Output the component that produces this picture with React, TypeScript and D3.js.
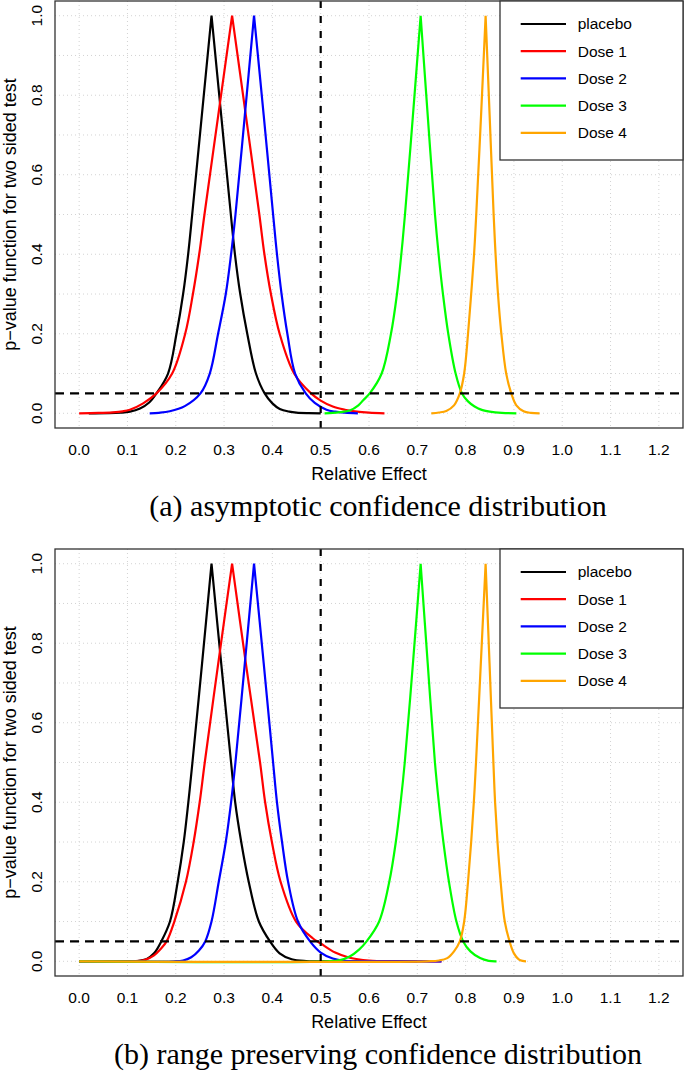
import React from "react";
import * as d3 from "d3";

type Pt = [number, number];

// ---------- data ----------
const SERIES_NAMES = ["placebo", "Dose 1", "Dose 2", "Dose 3", "Dose 4"];
const SERIES_COLORS = ["#000000", "#FF0000", "#0000FF", "#00FF00", "#FFA500"];
const X_TICKS = [0, 0.1, 0.2, 0.3, 0.4, 0.5, 0.6, 0.7, 0.8, 0.9, 1.0, 1.1, 1.2];
const Y_TICKS = [0, 0.2, 0.4, 0.6, 0.8, 1.0];
const Y_GRID = [0, 0.1, 0.2, 0.3, 0.4, 0.5, 0.6, 0.7, 0.8, 0.9, 1.0];
const THRESHOLD = 0.05;
const NULL_EFFECT = 0.5;
const CAPTIONS = [
  "(a) asymptotic confidence distribution",
  "(b) range preserving confidence distribution",
];

// (a) asymptotic confidence distribution: [relative effect, p-value]
const asymPlacebo: Pt[] = [[0.02,0],[0.06,0.0004],[0.085,0.0015],[0.105,0.004],[0.126,0.012],[0.145,0.027],[0.16,0.05],[0.184,0.1],[0.2015,0.2],[0.2152,0.3],[0.2256,0.4],[0.234,0.5],[0.254,0.75],[0.274,1],[0.294,0.75],[0.314,0.5],[0.3225,0.4],[0.3335,0.3],[0.348,0.2],[0.366,0.1],[0.384,0.05],[0.4,0.025],[0.4153,0.011],[0.435,0.004],[0.4498,0.0015],[0.475,0.0003],[0.5,0]];
const asymDose1: Pt[] = [[0,0],[0.04,0.0008],[0.07,0.0025],[0.09,0.005],[0.105,0.009],[0.1325,0.025],[0.16,0.05],[0.1925,0.1],[0.2195,0.2],[0.2355,0.3],[0.2485,0.4],[0.2594,0.5],[0.288,0.75],[0.3166,1],[0.345,0.75],[0.373,0.5],[0.3835,0.4],[0.397,0.3],[0.415,0.2],[0.445,0.1],[0.48,0.05],[0.5,0.032],[0.525,0.017],[0.55,0.009],[0.575,0.004],[0.6,0.0015],[0.632,0]];
const asymDose2: Pt[] = [[0.146,0],[0.165,0.0012],[0.1877,0.005],[0.2187,0.018],[0.2511,0.05],[0.2704,0.1],[0.2876,0.2],[0.3035,0.3],[0.3145,0.4],[0.3236,0.5],[0.343,0.75],[0.362,1],[0.382,0.75],[0.4015,0.5],[0.4095,0.4],[0.419,0.3],[0.431,0.2],[0.447,0.1],[0.469,0.05],[0.4877,0.026],[0.512,0.009],[0.53,0.004],[0.55,0.0015],[0.577,0]];
const asymDose3: Pt[] = [[0.508,0],[0.525,0.001],[0.54,0.003],[0.56,0.007],[0.578,0.02],[0.588,0.033],[0.6015,0.05],[0.6262,0.1],[0.6455,0.2],[0.6579,0.3],[0.6669,0.4],[0.6745,0.5],[0.691,0.75],[0.7069,1],[0.7215,0.75],[0.7366,0.5],[0.7441,0.4],[0.7531,0.3],[0.7641,0.2],[0.7793,0.1],[0.7925,0.05],[0.805,0.03],[0.8186,0.017],[0.835,0.008],[0.85,0.004],[0.875,0.001],[0.905,0]];
const asymDose4: Pt[] = [[0.729,0],[0.745,0.002],[0.76,0.006],[0.776,0.02],[0.788,0.05],[0.797,0.1],[0.805,0.2],[0.8115,0.3],[0.8175,0.4],[0.822,0.5],[0.832,0.75],[0.8414,1],[0.8497,0.75],[0.858,0.5],[0.862,0.4],[0.867,0.3],[0.874,0.2],[0.884,0.1],[0.8945,0.05],[0.905,0.02],[0.92,0.005],[0.935,0.001],[0.953,0]];

// (b) range preserving confidence distribution
const rangePlacebo: Pt[] = [[0,0],[0.1,0],[0.12,0.0006],[0.14,0.006],[0.155,0.02],[0.17,0.05],[0.188,0.1],[0.204,0.2],[0.2165,0.3],[0.226,0.4],[0.2345,0.5],[0.2545,0.75],[0.274,1],[0.294,0.75],[0.3145,0.5],[0.323,0.4],[0.3355,0.3],[0.351,0.2],[0.372,0.1],[0.395,0.05],[0.415,0.02],[0.44,0.005],[0.47,0.0005],[0.5,0],[0.7,0]];
const rangeDose1: Pt[] = [[0,0],[0.11,0],[0.135,0.003],[0.155,0.015],[0.168,0.03],[0.181,0.05],[0.197,0.1],[0.221,0.2],[0.237,0.3],[0.2495,0.4],[0.26,0.5],[0.288,0.75],[0.3166,1],[0.345,0.75],[0.3745,0.5],[0.385,0.4],[0.399,0.3],[0.417,0.2],[0.449,0.1],[0.4835,0.058],[0.5,0.045],[0.53,0.022],[0.56,0.009],[0.6,0.002],[0.65,0],[0.75,0]];
const rangeDose2: Pt[] = [[0,0],[0.195,0],[0.215,0.002],[0.232,0.01],[0.248,0.027],[0.261,0.05],[0.274,0.1],[0.289,0.2],[0.3035,0.3],[0.3145,0.4],[0.3235,0.5],[0.343,0.75],[0.362,1],[0.382,0.75],[0.4015,0.5],[0.4095,0.4],[0.42,0.3],[0.4325,0.2],[0.453,0.1],[0.478,0.05],[0.5,0.022],[0.525,0.007],[0.55,0.001],[0.58,0],[0.75,0]];
const rangeDose3: Pt[] = [[0,0],[0.515,0],[0.54,0.003],[0.56,0.012],[0.58,0.03],[0.595,0.05],[0.621,0.1],[0.642,0.2],[0.6555,0.3],[0.6655,0.4],[0.674,0.5],[0.691,0.75],[0.7069,1],[0.7215,0.75],[0.7365,0.5],[0.7445,0.4],[0.754,0.3],[0.7655,0.2],[0.781,0.1],[0.795,0.05],[0.81,0.025],[0.83,0.008],[0.848,0.001],[0.864,0]];
const rangeDose4: Pt[] = [[0,0],[0.72,0],[0.745,0.002],[0.762,0.008],[0.776,0.025],[0.788,0.05],[0.797,0.1],[0.805,0.2],[0.8115,0.3],[0.817,0.4],[0.8215,0.5],[0.8315,0.75],[0.8414,1],[0.8495,0.75],[0.8575,0.5],[0.861,0.4],[0.866,0.3],[0.8725,0.2],[0.881,0.1],[0.891,0.05],[0.9,0.02],[0.91,0.005],[0.918,0.001],[0.925,0]];

const PANEL_A = [asymPlacebo, asymDose1, asymDose2, asymDose3, asymDose4];
const PANEL_B = [rangePlacebo, rangeDose1, rangeDose2, rangeDose3, rangeDose4];

// ---------- layout ----------
const W = 685;
const H = 1072;
const BOX = { left: 55, right: 683, top: 1, bottom: 428 };
const PANEL_OFFSETS = [0, 548];
const SANS = "'Liberation Sans', Arial, Helvetica, sans-serif";
const SERIF = "'Liberation Serif', 'Times New Roman', serif";

const xScale = d3.scaleLinear().domain([-0.05, 1.25]).range([BOX.left, BOX.right]);
const yScale = d3.scaleLinear().domain([-0.037, 1.037]).range([BOX.bottom, BOX.top]);

const lineGen = d3
  .line<Pt>()
  .x((d) => xScale(d[0]))
  .y((d) => yScale(d[1]))
  .curve(d3.curveCatmullRom.alpha(0.5));

function curvePath(data: Pt[]): string {
  const peak = d3.maxIndex(data, (d) => d[1]);
  const left = data.slice(0, peak + 1);
  const right = data.slice(peak);
  return (lineGen(left) || "") + (lineGen(right) || "");
}

function Panel({ series, offset, caption }: { series: Pt[][]; offset: number; caption: string }) {
  const plotCx = (BOX.left + BOX.right) / 2;
  const plotCy = (BOX.top + BOX.bottom) / 2;
  const legend = { left: 500, top: BOX.top, right: BOX.right, bottom: 160 };
  const rowY = (i: number) => 24 + i * 27.2;
  return (
    <g transform={`translate(0,${offset})`}>
      {/* grid */}
      <g stroke="#d3d3d3" strokeWidth={1} strokeDasharray="1,3">
        {X_TICKS.map((t) => (
          <line key={`gx${t}`} x1={xScale(t)} x2={xScale(t)} y1={BOX.top} y2={BOX.bottom} />
        ))}
        {Y_GRID.map((t) => (
          <line key={`gy${t}`} x1={BOX.left} x2={BOX.right} y1={yScale(t)} y2={yScale(t)} />
        ))}
      </g>

      {/* curves */}
      <g fill="none" strokeWidth={2.2} strokeLinejoin="round" strokeLinecap="butt">
        {series.map((s, i) => (
          <path key={i} d={curvePath(s)} stroke={SERIES_COLORS[i]} />
        ))}
      </g>

      {/* reference lines */}
      <line
        x1={BOX.left}
        x2={BOX.right}
        y1={yScale(THRESHOLD)}
        y2={yScale(THRESHOLD)}
        stroke="#000"
        strokeWidth={2.2}
        strokeDasharray="9,6"
      />
      <line
        x1={xScale(NULL_EFFECT)}
        x2={xScale(NULL_EFFECT)}
        y1={BOX.top}
        y2={BOX.bottom + 6}
        stroke="#000"
        strokeWidth={2.2}
        strokeDasharray="7,8"
      />

      {/* box */}
      <rect
        x={BOX.left}
        y={BOX.top}
        width={BOX.right - BOX.left}
        height={BOX.bottom - BOX.top}
        fill="none"
        stroke="#333"
        strokeWidth={1.3}
      />

      {/* x tick labels */}
      <g fontFamily={SANS} fontSize={15.5} fill="#000" textAnchor="middle">
        {X_TICKS.map((t) => (
          <text key={`xt${t}`} x={xScale(t)} y={455}>
            {d3.format(".1f")(t)}
          </text>
        ))}
      </g>
      {/* y tick labels */}
      <g fontFamily={SANS} fontSize={15.5} fill="#000" textAnchor="middle">
        {Y_TICKS.map((t) => (
          <text key={`yt${t}`} transform={`translate(42,${yScale(t)}) rotate(-90)`}>
            {d3.format(".1f")(t)}
          </text>
        ))}
      </g>

      {/* axis titles */}
      <text x={plotCx} y={480} fontFamily={SANS} fontSize={18} textAnchor="middle" fill="#000">
        Relative Effect
      </text>
      <text
        transform={`translate(16,${plotCy}) rotate(-90)`}
        fontFamily={SANS}
        fontSize={18}
        textAnchor="middle"
        fill="#000"
      >
        p−value function for two sided test
      </text>

      {/* legend */}
      <rect
        x={legend.left}
        y={legend.top}
        width={legend.right - legend.left}
        height={legend.bottom - legend.top}
        fill="#fff"
        stroke="#333"
        strokeWidth={1.3}
      />
      {SERIES_NAMES.map((name, i) => (
        <g key={name}>
          <line x1={520.7} x2={566} y1={rowY(i)} y2={rowY(i)} stroke={SERIES_COLORS[i]} strokeWidth={2.2} />
          <text x={577.7} y={rowY(i)} dy="0.35em" fontFamily={SANS} fontSize={15.5} fill="#000">
            {name}
          </text>
        </g>
      ))}

      {/* caption */}
      <text x={378} y={516} fontFamily={SERIF} fontSize={30} textAnchor="middle" fill="#000">
        {caption}
      </text>
    </g>
  );
}

export default function App() {
  return (
    <svg
      width={W}
      height={H}
      viewBox={`0 0 ${W} ${H}`}
      style={{ position: "absolute", left: 0, top: 0, background: "#fff" }}
    >
      <rect x={0} y={0} width={W} height={H} fill="#fff" />
      <Panel series={PANEL_A} offset={PANEL_OFFSETS[0]} caption={CAPTIONS[0]} />
      <Panel series={PANEL_B} offset={PANEL_OFFSETS[1]} caption={CAPTIONS[1]} />
    </svg>
  );
}
